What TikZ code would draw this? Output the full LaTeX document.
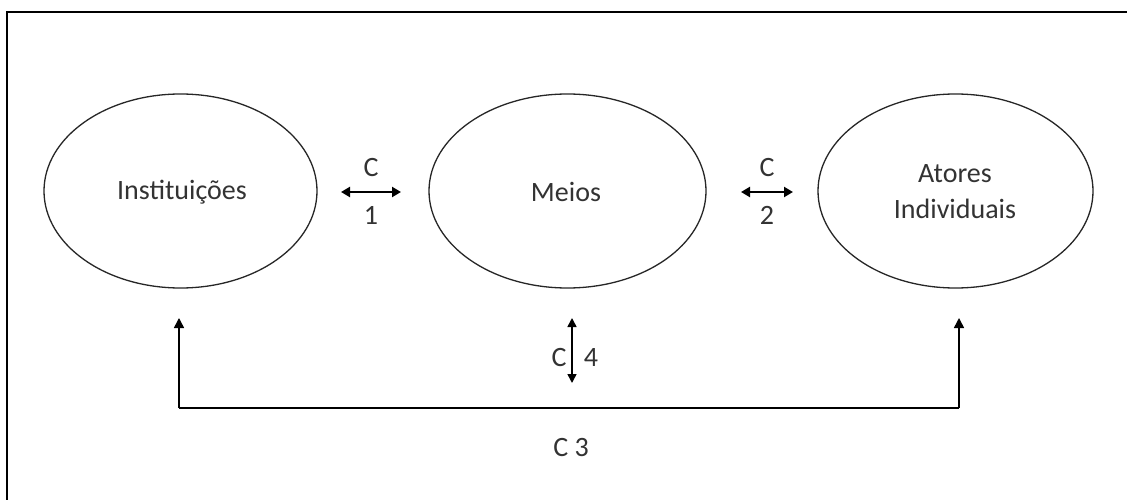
\documentclass[tikz,border=0pt]{standalone}
\usepackage{fontspec}
\setmainfont{Carlito}
\usetikzlibrary{arrows.meta}
\definecolor{txt}{HTML}{333333}
\begin{document}
\begin{tikzpicture}[x=1pt,y=-1pt,
  every node/.style={font=\fontsize{28}{36}\selectfont, text=txt, inner sep=0pt},
  oval/.style={draw=black!85, line width=1.3pt},
  dbl/.style={line width=2.2pt, {Triangle[length=9pt,width=10pt]}-{Triangle[length=9pt,width=10pt]}},
  vdbl/.style={line width=1.5pt, {Triangle[length=9pt,width=9pt]}-{Triangle[length=9pt,width=9pt]}},
  sgl/.style={line width=1.5pt, -{Triangle[length=10pt,width=10pt]}}]
\useasboundingbox (0,0) rectangle (1127,500);
\fill[white] (0,0) rectangle (1127,500);
% frame (only top and left visible)
\draw[line width=1.6pt] (7,520) -- (7,12) -- (1140,12);
% ellipses
\draw[oval] (180.5,191) ellipse [x radius=136.5, y radius=97];
\draw[oval] (567.5,191) ellipse [x radius=138.5, y radius=97];
\draw[oval] (955.5,191) ellipse [x radius=137.5, y radius=97];
\node (inst) at (182,192) {Instituições};
\node (meios) at (566,192) {Meios};
\node[align=center] (atores) at (955,192) {Atores\\Individuais};
% C1
\coordinate (c1a) at (341,192); \coordinate (c1b) at (401,192);
\draw[dbl] (c1a) -- (c1b);
\node (c1c) at (371,168) {C};
\node (c1n) at (371,215) {1};
% C2
\coordinate (c2a) at (741,192); \coordinate (c2b) at (793,192);
\draw[dbl] (c2a) -- (c2b);
\node (c2c) at (767,168) {C};
\node (c2n) at (767,215) {2};
% C4
\coordinate (c4a) at (572,318); \coordinate (c4b) at (572,383);
\draw[vdbl] (c4a) -- (c4b);
\node (c4c) at (559,358) {C};
\node (c4n) at (591,358) {4};
% C3
\coordinate (l) at (179,408); \coordinate (lt) at (179,318);
\coordinate (r) at (959,408); \coordinate (rt) at (959,318);
\draw[line width=1.5pt] (l) -- (r);
\draw[sgl] (l) -- (lt);
\draw[sgl] (r) -- (rt);
\node (c3) at (571,448) {C 3};
\end{tikzpicture}
\end{document}
